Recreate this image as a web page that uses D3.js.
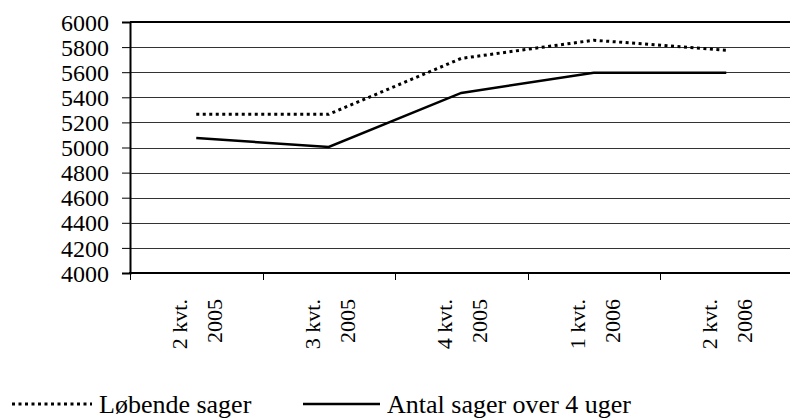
<!DOCTYPE html>
<html>
	<head>
		<meta charset="utf-8">
		<title>Sager</title>
		<script src="https://cdnjs.cloudflare.com/ajax/libs/d3/7.8.5/d3.min.js"></script>
		<style type="text/css">
			html, body {
				margin: 0;
				padding: 0;
				background: white;
			}
		</style>
	</head>
	<body>
		<svg id="chart" width="790" height="419"></svg>

		<script type="text/javascript">

			// data
			var quarters = ["2 kvt.", "3 kvt.", "4 kvt.", "1 kvt.", "2 kvt."];
			var years    = ["2005", "2005", "2005", "2006", "2006"];
			var loebende = [5265, 5265, 5710, 5855, 5775];   // Løbende sager
			var over4    = [5075, 5005, 5435, 5595, 5595];   // Antal sager over 4 uger
			var yTicks   = [4000, 4200, 4400, 4600, 4800, 5000, 5200, 5400, 5600, 5800, 6000];

			var width  = 790;
			var height = 419;
			var font = "Liberation Serif";

			var plot_left = 130, plot_right = 792.5, plot_top = 22, plot_bottom = 273;

			var svg = d3.select("#chart");

			var idx = d3.range(quarters.length);

			var x = d3.scaleBand()
				.domain(idx)
				.range([plot_left, plot_right])
				.padding(0);

			var y = d3.scaleLinear()
				.domain([4000, 6000])
				.range([plot_bottom, plot_top]);

			var cx = function (i) { return x(i) + x.bandwidth() / 2; };

			//---------------------------------------------
			// grid lines
			//---------------------------------------------
			svg.append("g")
				.selectAll("line")
				.data(yTicks.slice(1, -1))
				.enter().append("line")
				.attr("x1", plot_left).attr("x2", width)
				.attr("y1", function (d) { return Math.round(y(d)) + 0.5; })
				.attr("y2", function (d) { return Math.round(y(d)) + 0.5; })
				.style("stroke", "#333")
				.style("stroke-width", "1px");

			// top border
			svg.append("line")
				.attr("x1", plot_left).attr("x2", width)
				.attr("y1", y(6000)).attr("y2", y(6000))
				.style("stroke", "black")
				.style("stroke-width", "2px");

			//---------------------------------------------
			// y axis
			//---------------------------------------------
			var yAxis = svg.append("g")
				.attr("transform", "translate(" + plot_left + ",0)")
				.call(d3.axisLeft(y).tickValues(yTicks).tickSize(8).tickPadding(13).tickFormat(d3.format("d")));

			yAxis.attr("font-family", font);
			yAxis.select(".domain").style("stroke", "black").style("stroke-width", "2px");
			yAxis.selectAll(".tick line").style("stroke", "black");
			yAxis.selectAll("text")
				.style("font-family", font)
				.style("font-size", "24px")
				.style("fill", "black")
				.attr("dy", "0.34em");

			//---------------------------------------------
			// x axis
			//---------------------------------------------
			svg.append("line")
				.attr("x1", plot_left - 1).attr("x2", width)
				.attr("y1", plot_bottom).attr("y2", plot_bottom)
				.style("stroke", "black")
				.style("stroke-width", "2px");

			svg.append("g")
				.selectAll("line")
				.data(idx)
				.enter().append("line")
				.attr("x1", function (i) { return Math.round(x(i)) + 0.5; })
				.attr("x2", function (i) { return Math.round(x(i)) + 0.5; })
				.attr("y1", plot_bottom).attr("y2", plot_bottom + 7)
				.style("stroke", "black")
				.style("stroke-width", "1px");

			var labels = svg.append("g")
				.selectAll("g")
				.data(idx)
				.enter().append("g")
				.attr("transform", function (i) { return "translate(" + cx(i) + ",299) rotate(-90)"; });

			labels.append("text")
				.attr("x", 0).attr("y", -9)
				.attr("text-anchor", "end")
				.style("font-family", font)
				.style("font-size", "22px")
				.text(function (i) { return quarters[i]; });

			labels.append("text")
				.attr("x", 0).attr("y", 26)
				.attr("text-anchor", "end")
				.style("font-family", font)
				.style("font-size", "22px")
				.text(function (i) { return years[i]; });

			//---------------------------------------------
			// series
			//---------------------------------------------
			var line = d3.line()
				.x(function (d, i) { return cx(i); })
				.y(function (d) { return y(d); });

			svg.append("path")
				.datum(loebende)
				.attr("d", line)
				.style("fill", "none")
				.style("stroke", "black")
				.style("stroke-width", "3px")
				.style("stroke-dasharray", "3, 3.5");

			svg.append("path")
				.datum(over4)
				.attr("d", line)
				.style("fill", "none")
				.style("stroke", "black")
				.style("stroke-width", "2.5px");

			//---------------------------------------------
			// legend
			//---------------------------------------------
			var legend = svg.append("g");

			legend.append("line")
				.attr("x1", 12).attr("x2", 92)
				.attr("y1", 404).attr("y2", 404)
				.style("stroke", "black")
				.style("stroke-width", "3px")
				.style("stroke-dasharray", "3, 3.5");

			legend.append("text")
				.attr("x", 99).attr("y", 413)
				.style("font-family", font)
				.style("font-size", "26px")
				.text("Løbende sager");

			legend.append("line")
				.attr("x1", 303).attr("x2", 380)
				.attr("y1", 404).attr("y2", 404)
				.style("stroke", "black")
				.style("stroke-width", "2.5px");

			legend.append("text")
				.attr("x", 387).attr("y", 413)
				.style("font-family", font)
				.style("font-size", "26px")
				.text("Antal sager over 4 uger");

		</script>
	</body>
</html>
